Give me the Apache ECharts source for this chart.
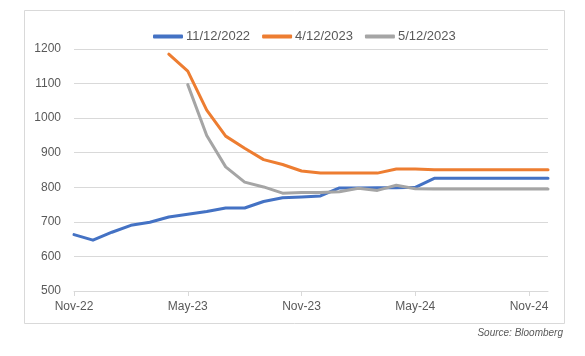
<!DOCTYPE html>
<html>
<head>
<meta charset="utf-8">
<script src="https://cdn.jsdelivr.net/npm/echarts@6/dist/echarts.min.js"></script>
<style>
html,body{margin:0;padding:0;background:#fff;}
#c{width:585px;height:356px;}
</style>
</head>
<body>
<div id="c"></div>
<script>
const categories = ["Nov-22","Dec-22","Jan-23","Feb-23","Mar-23","Apr-23","May-23","Jun-23","Jul-23","Aug-23","Sep-23","Oct-23","Nov-23","Dec-23","Jan-24","Feb-24","Mar-24","Apr-24","May-24","Jun-24","Jul-24","Aug-24","Sep-24","Oct-24","Nov-24","Dec-24"];
const seriesNames = ["11/12/2022","4/12/2023","5/12/2023"];
const s2022_11_12 = [663,647,670,690,699,714,722,730,740,740,759,770,772,775,798,798,799,799,800,826,826,826,826,826,826,826];
const s2023_04_12 = [null,null,null,null,null,1185,1136,1023,948,913,880,866,847,841,841,841,841,853,853,851,851,851,851,851,851,851];
const s2023_05_12 = [null,null,null,null,null,null,1097,950,859,815,801,783,785,785,787,797,791,806,796,795,795,795,795,795,795,795];
const yTicks = [500,600,700,800,900,1000,1100,1200];

const colors = ["#4472C4","#ED7D31","#A5A5A5"];
const font = "Liberation Sans";
const chart = echarts.init(document.getElementById('c'), null, {renderer:'canvas'});
const data = [s2022_11_12, s2023_04_12, s2023_05_12];
chart.setOption({
  animation:false,
  backgroundColor:'#fff',
  graphic:[
    {type:'rect', shape:{x:24.5,y:10.5,width:540,height:313}, style:{fill:'none',stroke:'#d9d9d9',lineWidth:1}, z:-1},
    {type:'text', right:22, top:328, style:{text:'Source: Bloomberg', font:'italic 10px "Liberation Sans"', fill:'#595959'}}
  ],
  legend:{
    left:148, top:25, itemWidth:30, itemHeight:4, itemGap:12,
    icon:'roundRect',
    textStyle:{fontFamily:font, fontSize:13, color:'#595959', padding:[0,0,0,-2]},
    data:seriesNames
  },
  grid:{left:74, right:37, top:49, bottom:65, containLabel:false},
  xAxis:{
    type:'category', data:categories, boundaryGap:false,
    axisLine:{lineStyle:{color:'#d9d9d9'}},
    axisTick:{show:true, interval:5, length:5, lineStyle:{color:'#d9d9d9'}},
    axisLabel:{interval:5, fontFamily:font, fontSize:12, color:'#595959', margin:10},
    splitLine:{show:false}
  },
  yAxis:{
    type:'value', min:yTicks[0], max:yTicks[yTicks.length-1], interval:100,
    axisLine:{show:false}, axisTick:{show:false},
    axisLabel:{fontFamily:font, fontSize:12, color:'#595959', margin:13, formatter:(v)=>String(v)},
    splitLine:{lineStyle:{color:'#d9d9d9', width:1}}
  },
  series: seriesNames.map((n,i)=>({
    name:n, type:'line', data:data[i], symbol:'none', connectNulls:false,
    lineStyle:{color:colors[i], width:3, cap:'round', join:'round'},
    itemStyle:{color:colors[i]},
    z: 2+i
  }))
});
</script>
</body>
</html>
